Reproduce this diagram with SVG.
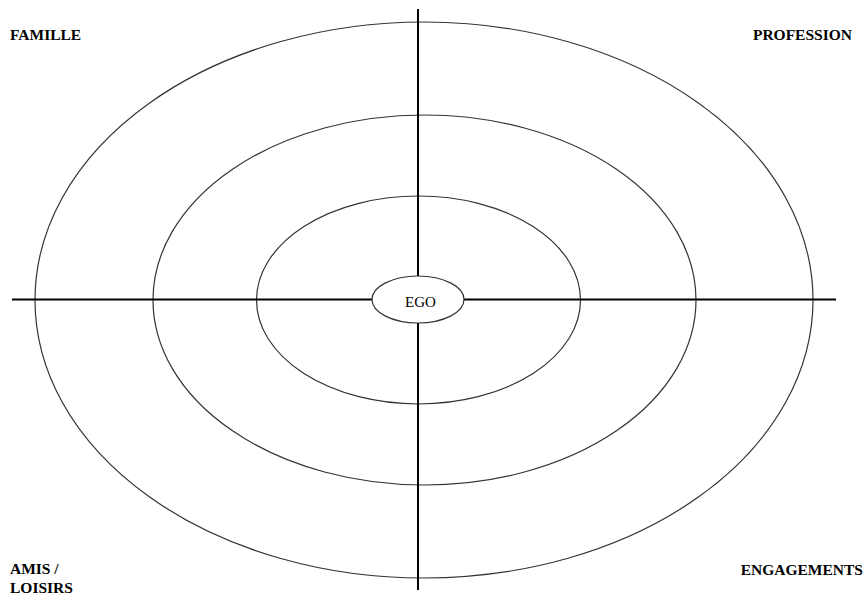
<svg xmlns="http://www.w3.org/2000/svg" width="865" height="595" viewBox="0 0 865 595">
<style>
.ring{fill:none;stroke:#333;stroke-width:1.2}
.axis{stroke:#000;stroke-width:2}
.lbl{font-family:"Liberation Serif","Times New Roman",serif;font-weight:bold;font-size:15.5px;fill:#000}
.ego{font-family:"Liberation Serif","Times New Roman",serif;font-size:15px;fill:#000}
</style>
<rect width="865" height="595" fill="#fff"/>
<g id="rings">
<ellipse id="outer" class="ring" cx="424" cy="300" rx="389" ry="278"/>
<ellipse id="middle" class="ring" cx="424.5" cy="300" rx="271.5" ry="185"/>
<ellipse id="inner" class="ring" cx="418.5" cy="300" rx="162" ry="104"/>
</g>
<g id="connectors">
<line class="axis" x1="418" y1="9" x2="418" y2="590"/>
<line class="axis" x1="12" y1="299.5" x2="836" y2="299.5"/>
</g>
<g id="ego">
<ellipse cx="418" cy="299.5" rx="46" ry="23.5" fill="#fff" stroke="#333" stroke-width="1.2"/>
<text class="ego" x="420.5" y="306.5" text-anchor="middle">EGO</text>
</g>
<g id="famille"><text class="lbl" x="10" y="40">FAMILLE</text></g>
<g id="profession"><text class="lbl" x="852" y="40" text-anchor="end">PROFESSION</text></g>
<g id="amis"><text class="lbl" x="10" y="574">AMIS /</text><text class="lbl" x="10" y="593">LOISIRS</text></g>
<g id="engagements"><text class="lbl" x="863" y="575" text-anchor="end">ENGAGEMENTS</text></g>
</svg>
